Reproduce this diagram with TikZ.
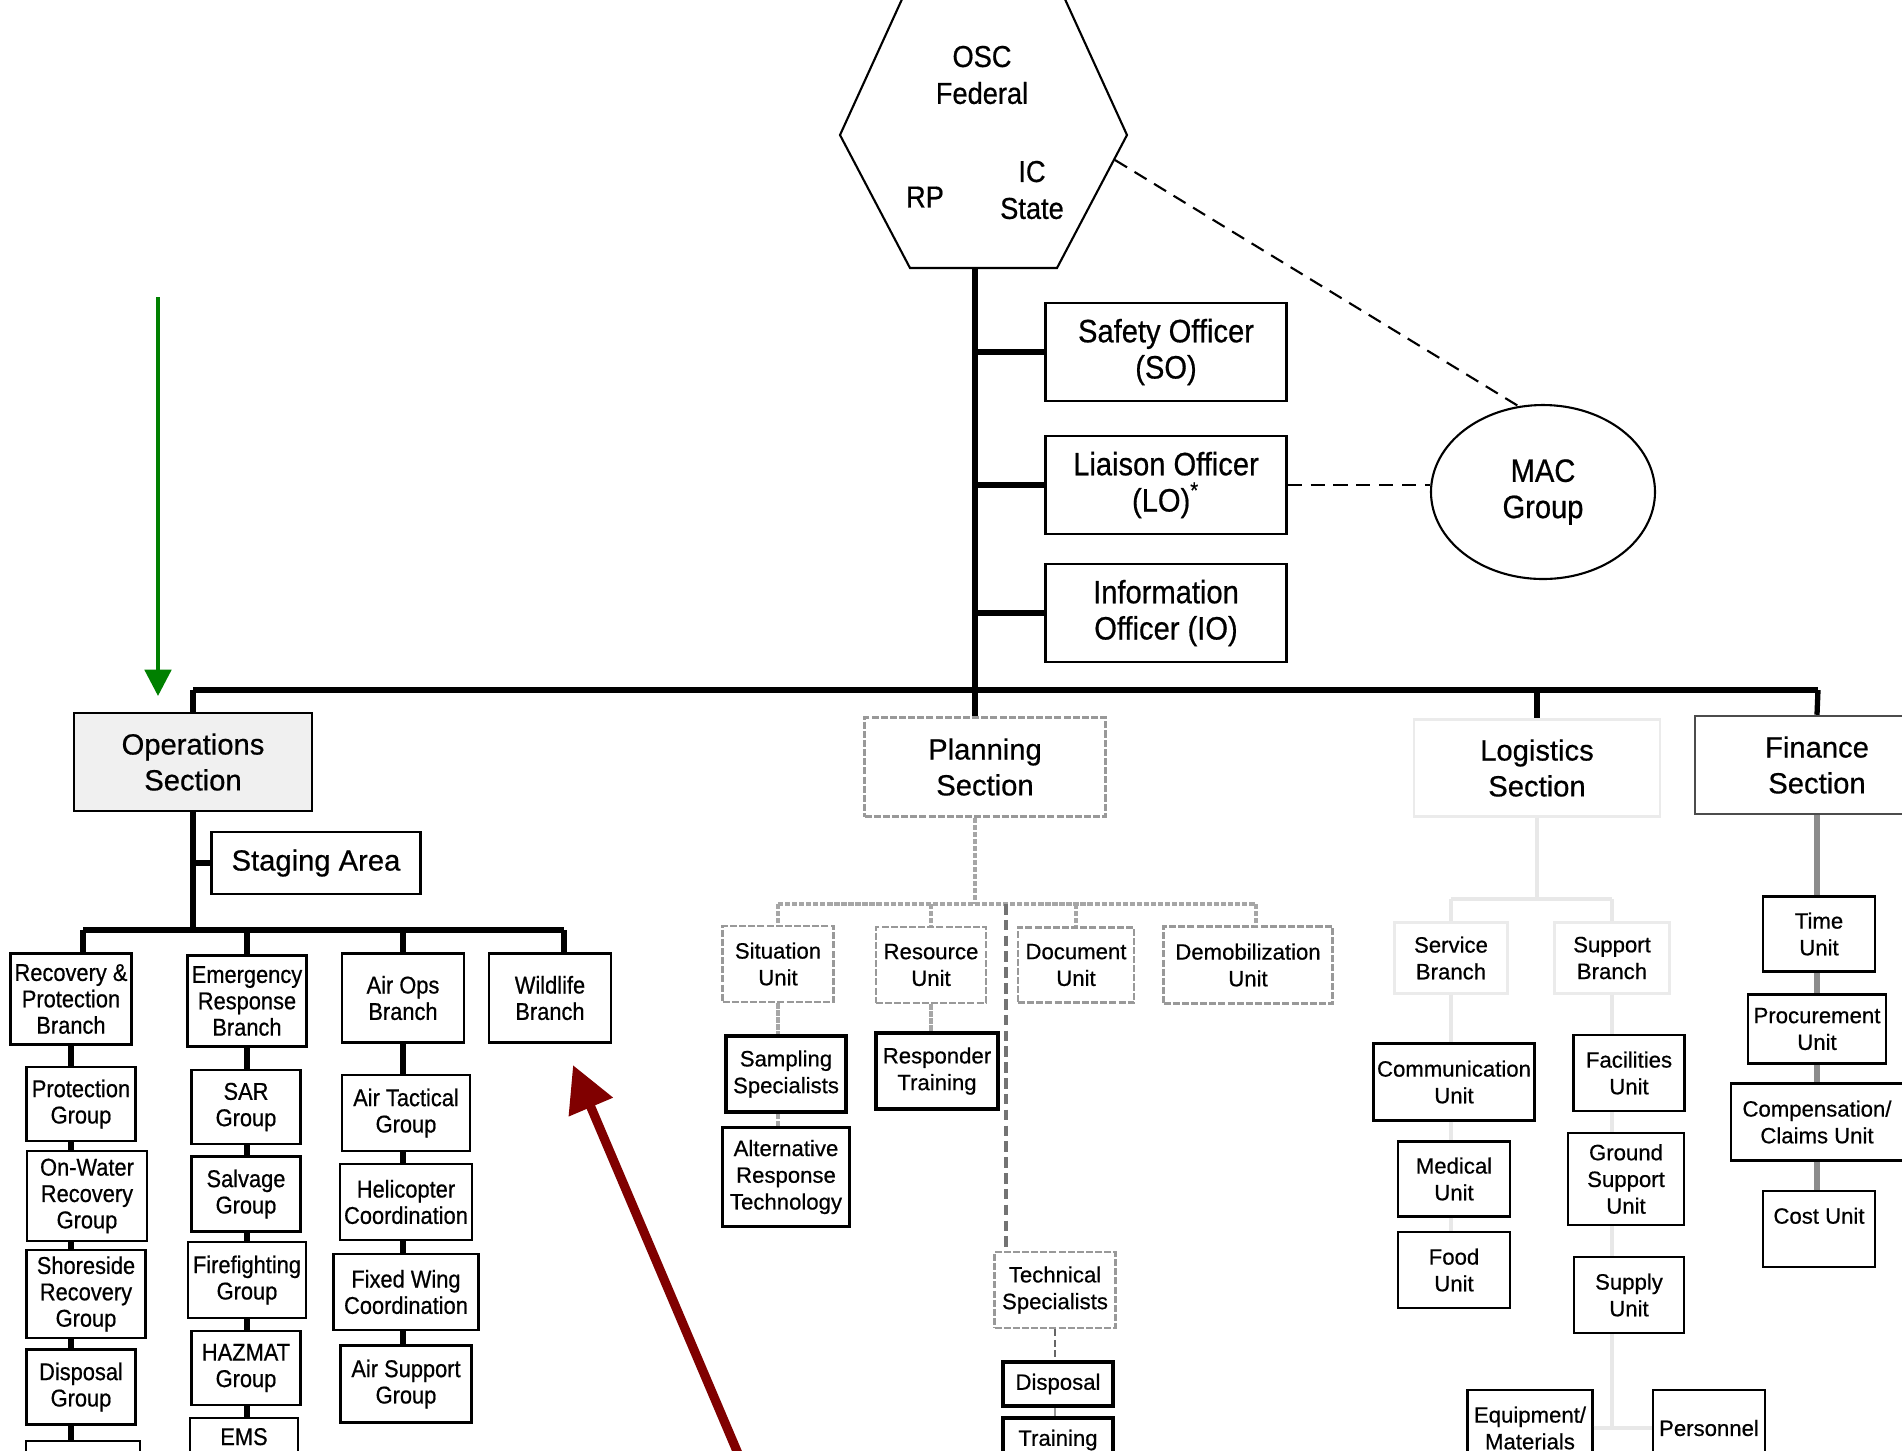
\documentclass[tikz,border=0pt]{standalone}
\usepackage{fontspec}
\setmainfont{Liberation Sans}[FakeBold=0.6]
\newfontfamily\narrowfont[FakeStretch=0.9, FakeBold=0.6]{Liberation Sans}
\usetikzlibrary{shapes.geometric,arrows.meta}

\definecolor{annogreen}{RGB}{0,128,0}
\definecolor{annored}{RGB}{128,0,0}

\newcommand{\topfont}{\narrowfont\fontsize{9.2}{10.3}\selectfont}
\newcommand{\hexfont}{\narrowfont\fontsize{8.6}{10.5}\selectfont}
\newcommand{\secfont}{\fontsize{8.3}{10.2}\selectfont}
\newcommand{\opsfont}{\narrowfont\fontsize{6.9}{7.5}\selectfont}
\newcommand{\unitfont}{\fontsize{6.3}{7.6}\selectfont}

\tikzset{
  box/.style = {draw, line width = 0.7pt, align = center, inner sep = 0pt, font = \unitfont},
  boxsize/.style 2 args = {minimum width = #1*0.01cm, minimum height = #2*0.01cm},
  topbox/.style = {box, font = \topfont},
  secbox/.style = {box, font = \secfont},
  opsbox/.style = {box, font = \opsfont},
  planbox/.style = {box, draw = black!40, dash pattern = on 2pt off 0.6pt},
  solidbox/.style = {box, line width = 1pt},
  faintbox/.style = {box, draw = black!8},
  opsline/.style = {line width = 1.5pt},
  plantree/.style = {line width = 1.1pt, black!35, dash pattern = on 1.5pt off 0.5pt},
  logtree/.style = {line width = 1pt, black!9},
  fintree/.style = {line width = 1.6pt, black!45},
  macdash/.style = {line width = 0.6pt, dash pattern = on 4pt off 2.5pt}
}

\begin{document}
\begin{tikzpicture}[x = 0.01cm, y = -0.01cm]
  \useasboundingbox ( 0, 0 ) rectangle ( 1902, 1450 );

  % hexagon
  \coordinate (hexbot) at ( 975, 268 );
  \coordinate (hexdash) at ( 1115, 160 );
  \draw [line width = 0.6pt] ( 903, -3 ) -- ( 1064, -3 ) -- ( 1127, 135 ) -- ( 1057, 268 ) -- ( 910, 268 ) -- ( 840, 135 ) -- cycle;
  \node [font = \hexfont, align = center] (osc) at ( 982, 75 ) {OSC\\Federal};
  \node [font = \hexfont] (rp) at ( 925, 197 ) {RP};
  \node [font = \hexfont, align = center] (ic) at ( 1032, 190 ) {IC\\State};

  % officers
  \node [topbox, boxsize = {241}{98}] (so) at ( 1166, 352 ) {Safety Officer\\(SO)};
  \node [topbox, boxsize = {241}{98}] (lo) at ( 1166, 485 ) {Liaison Officer\\(LO)\textsuperscript{*}};
  \node [topbox, boxsize = {241}{98}] (io) at ( 1166, 613 ) {Information\\Officer (IO)};
  \node [ellipse, draw, line width = 0.6pt, font = \topfont, align = center, inner sep = 0pt, boxsize = {224}{174}] (mac) at ( 1543, 492 ) {MAC\\Group};

  % sections
  \node [secbox, fill = black!6, boxsize = {238}{98}] (ops) at ( 193, 762 ) {Operations\\Section};
  \node [secbox, draw = black!40, dash pattern = on 2pt off 0.6pt, boxsize = {241}{99}] (plan) at ( 985, 767 ) {Planning\\Section};
  \node [secbox, draw = black!8, boxsize = {246}{97}] (logi) at ( 1537, 768 ) {Logistics\\Section};
  \node [secbox, draw = black!70, boxsize = {244}{98}] (fin) at ( 1817, 765 ) {Finance\\Section};

  % main line and bus
  \coordinate (busL) at ( 193, 690 );
  \coordinate (busR) at ( 1818, 690 );
  \draw [opsline] (hexbot) -- (hexbot |- plan.north);
  \draw [opsline] (hexbot |- so.west) -- (so.west);
  \draw [opsline] (hexbot |- lo.west) -- (lo.west);
  \draw [opsline] (hexbot |- io.west) -- (io.west);
  \draw [opsline] (busL) -- (busR);
  \draw [opsline] (busL) -- (ops.north);
  \draw [opsline] (logi.north |- busL) -- (logi.north);
  \draw [opsline] (busR) -- (fin.north);

  % dashed links
  \draw [macdash] (hexdash) -- (mac.106);
  \draw [macdash] (lo.east) -- (lo.east -| mac.west);

  % operations
  \node [secbox, boxsize = {209}{62}] (stage) at ( 316, 863 ) {Staging Area};
  \node [opsbox, boxsize = {121}{91}] (rpb) at ( 71, 999 ) {Recovery \&\\Protection\\Branch};
  \node [opsbox, boxsize = {119}{91}] (erb) at ( 247, 1001 ) {Emergency\\Response\\Branch};
  \node [opsbox, boxsize = {122}{89}] (aob) at ( 403, 998 ) {Air Ops\\Branch};
  \node [opsbox, boxsize = {122}{89}] (wlb) at ( 550, 998 ) {Wildlife\\Branch};
  \coordinate (opsL) at ( 83, 930 );
  \coordinate (opsR) at ( 564, 930 );
  \draw [opsline] (ops.south) -- (ops.south |- opsL);
  \draw [opsline] (ops.south |- stage.west) -- (stage.west);
  \draw [opsline] (opsL) -- (opsR);
  \draw [opsline] (opsL) -- (opsL |- rpb.north);
  \draw [opsline] (erb.north |- opsL) -- (erb.north);
  \draw [opsline] (aob.north |- opsL) -- (aob.north);
  \draw [opsline] (opsR) -- (opsR |- wlb.north);

  % recovery column
  \node [opsbox, boxsize = {109}{74}] (prg) at ( 81, 1104 ) {Protection\\Group};
  \node [opsbox, boxsize = {120}{90}] (owr) at ( 87, 1196 ) {On-Water\\Recovery\\Group};
  \node [opsbox, boxsize = {119}{88}] (srg) at ( 86, 1294 ) {Shoreside\\Recovery\\Group};
  \node [opsbox, boxsize = {109}{75}] (dsg) at ( 81, 1387 ) {Disposal\\Group};
  \node [opsbox, boxsize = {114}{78}] (rpx) at ( 83, 1480 ) {};
  \draw [opsline] (rpb.south) -- (rpb.south |- prg.north);
  \draw [opsline] (rpb.south |- prg.south) -- (rpb.south |- owr.north);
  \draw [opsline] (rpb.south |- owr.south) -- (rpb.south |- srg.north);
  \draw [opsline] (rpb.south |- srg.south) -- (rpb.south |- dsg.north);
  \draw [opsline] (rpb.south |- dsg.south) -- (rpb.south |- rpx.north);

  % emergency column
  \node [opsbox, boxsize = {109}{74}] (sar) at ( 246, 1107 ) {SAR\\Group};
  \node [opsbox, boxsize = {109}{75}] (salv) at ( 246, 1194 ) {Salvage\\Group};
  \node [opsbox, boxsize = {118}{76}] (fire) at ( 247, 1280 ) {Firefighting\\Group};
  \node [opsbox, boxsize = {109}{74}] (hazm) at ( 246, 1368 ) {HAZMAT\\Group};
  \node [opsbox, boxsize = {108}{74}] (ems) at ( 244, 1455 ) {EMS\\[3pt]~};
  \draw [opsline] (erb.south) -- (erb.south |- sar.north);
  \draw [opsline] (erb.south |- sar.south) -- (erb.south |- salv.north);
  \draw [opsline] (erb.south |- salv.south) -- (erb.south |- fire.north);
  \draw [opsline] (erb.south |- fire.south) -- (erb.south |- hazm.north);
  \draw [opsline] (erb.south |- hazm.south) -- (erb.south |- ems.north);

  % air ops column
  \node [opsbox, boxsize = {128}{76}] (atg) at ( 406, 1113 ) {Air Tactical\\Group};
  \node [opsbox, boxsize = {132}{76}] (heli) at ( 406, 1202 ) {Helicopter\\Coordination};
  \node [opsbox, boxsize = {145}{76}] (fwc) at ( 406, 1292 ) {Fixed Wing\\Coordination};
  \node [opsbox, boxsize = {131}{77}] (asg) at ( 406, 1384 ) {Air Support\\Group};
  \draw [opsline] (aob.south) -- (aob.south |- atg.north);
  \draw [opsline] (aob.south |- atg.south) -- (aob.south |- heli.north);
  \draw [opsline] (aob.south |- heli.south) -- (aob.south |- fwc.north);
  \draw [opsline] (aob.south |- fwc.south) -- (aob.south |- asg.north);

  % planning
  \node [planbox, boxsize = {111}{76}] (sit) at ( 778, 964 ) {Situation\\Unit};
  \node [planbox, boxsize = {110}{76}] (res) at ( 931, 965 ) {Resource\\Unit};
  \node [planbox, boxsize = {116}{75}] (doc) at ( 1076, 965 ) {Document\\Unit};
  \node [planbox, boxsize = {169}{77}] (demob) at ( 1248, 965 ) {Demobilization\\Unit};
  \node [solidbox, boxsize = {120}{76}] (samp) at ( 786, 1074 ) {Sampling\\Specialists};
  \node [solidbox, boxsize = {127}{99}] (art) at ( 786, 1177 ) {Alternative\\Response\\Technology};
  \node [solidbox, boxsize = {122}{76}] (rtr) at ( 937, 1071 ) {Responder\\Training};
  \node [planbox, boxsize = {121}{76}] (tech) at ( 1055, 1290 ) {Technical\\Specialists};
  \node [solidbox, boxsize = {110}{44}] (tdis) at ( 1058, 1384 ) {Disposal};
  \node [solidbox, boxsize = {110}{44}] (ttra) at ( 1058, 1440 ) {Training};
  \coordinate (planL) at ( 778, 904 );
  \coordinate (planR) at ( 1256, 904 );
  \coordinate (techbus) at ( 1006, 904 );
  \draw [plantree] (hexbot |- plan.south) -- (hexbot |- planL);
  \draw [plantree] (planL) -- (planR);
  \draw [plantree] (planL) -- (sit.north);
  \draw [plantree] (res.north |- planL) -- (res.north);
  \draw [plantree] (doc.north |- planL) -- (doc.north);
  \draw [plantree] (planR) -- (planR |- demob.north);
  \draw [plantree] (sit.south) -- (sit.south |- samp.north);
  \draw [plantree] (sit.south |- samp.south) -- (sit.south |- art.north);
  \draw [plantree] (res.south) -- (res.south |- rtr.north);
  \draw [line width = 0.9pt, black!55, dash pattern = on 3pt off 1.5pt] (techbus) -- (techbus |- tech.north);
  \draw [line width = 0.5pt, black!60, dash pattern = on 2pt off 1pt] (tech.south) -- (tech.south |- tdis.north);
  \draw [line width = 0.4pt, black!40] (tech.south |- tdis.south) -- (tech.south |- ttra.north);

  % logistics
  \node [faintbox, boxsize = {113}{71}] (svc) at ( 1451, 958 ) {Service\\Branch};
  \node [faintbox, boxsize = {115}{71}] (sup) at ( 1612, 958 ) {Support\\Branch};
  \node [box, boxsize = {161}{77}] (com) at ( 1454, 1082 ) {Communication\\Unit};
  \node [box, boxsize = {112}{75}] (med) at ( 1454, 1179 ) {Medical\\Unit};
  \node [box, boxsize = {112}{76}] (food) at ( 1454, 1270 ) {Food\\Unit};
  \node [box, boxsize = {111}{76}] (fac) at ( 1629, 1073 ) {Facilities\\Unit};
  \node [box, boxsize = {116}{92}] (gsu) at ( 1626, 1179 ) {Ground\\Support\\Unit};
  \node [box, boxsize = {110}{76}] (spl) at ( 1629, 1295 ) {Supply\\Unit};
  \node [box, boxsize = {125}{76}] (eqm) at ( 1530, 1428 ) {Equipment/\\Materials};
  \node [box, boxsize = {112}{76}] (pers) at ( 1709, 1428 ) {Personnel};
  \coordinate (logL) at ( 1451, 899 );
  \coordinate (logR) at ( 1612, 899 );
  \draw [logtree] (logi.south) -- (logi.south |- logL);
  \draw [logtree] (logL) -- (logR);
  \draw [logtree] (logL) -- (svc.north);
  \draw [logtree] (logR) -- (sup.north);
  \draw [logtree] (svc.south) -- (svc.south |- com.north);
  \draw [logtree] (svc.south |- com.south) -- (svc.south |- med.north);
  \draw [logtree] (svc.south |- med.south) -- (svc.south |- food.north);
  \draw [logtree] (sup.south) -- (sup.south |- fac.north);
  \draw [logtree] (sup.south |- fac.south) -- (sup.south |- gsu.north);
  \draw [logtree] (sup.south |- gsu.south) -- (sup.south |- spl.north);
  \draw [logtree] (sup.south |- spl.south) -- (sup.south |- eqm.east);
  \draw [logtree] (eqm.east) -- (pers.west);

  % finance
  \node [box, boxsize = {112}{75}] (time) at ( 1819, 934 ) {Time\\Unit};
  \node [box, boxsize = {138}{69}] (proc) at ( 1817, 1029 ) {Procurement\\Unit};
  \node [box, boxsize = {172}{77}] (comp) at ( 1817, 1122 ) {Compensation/\\Claims Unit};
  \node [box, boxsize = {112}{76}] (cost) at ( 1819, 1229 ) {Cost Unit\\~};
  \draw [fintree] (fin.south) -- (fin.south |- time.north);
  \draw [fintree] (fin.south |- time.south) -- (fin.south |- proc.north);
  \draw [fintree] (fin.south |- proc.south) -- (fin.south |- comp.north);
  \draw [fintree] (fin.south |- comp.south) -- (fin.south |- cost.north);

  % arrows
  \coordinate (greentail) at ( 158, 297 );
  \coordinate (greentip) at ( 158, 696 );
  \draw [annogreen, line width = 1.15pt, -{Triangle[length = 7.5pt, width = 7.5pt]}] (greentail) -- (greentip);
  \coordinate (redtail) at ( 745, 1470 );
  \coordinate (redtip) at ( 573, 1065 );
  \draw [annored, line width = 2.6pt, -{Triangle[length = 13pt, width = 13pt]}] (redtail) -- (redtip);
\end{tikzpicture}
\end{document}
